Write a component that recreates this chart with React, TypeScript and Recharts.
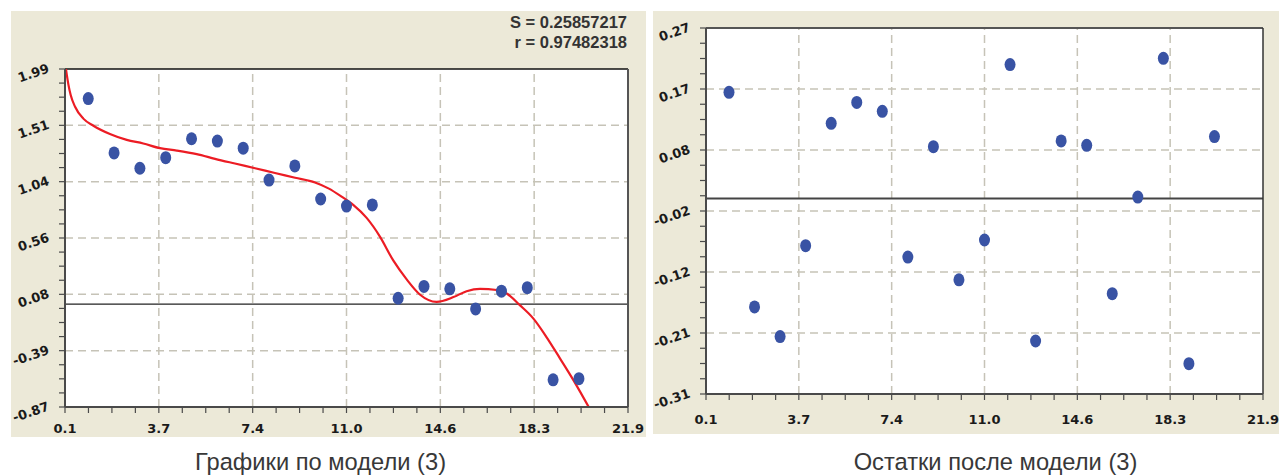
import React from 'react';
import { ComposedChart, Line, Scatter, XAxis, YAxis, CartesianGrid, ReferenceLine } from 'recharts';

// observation index and fitted-model chart values
const X_OBS = [1, 2, 3, 4, 5, 6, 7, 8, 9, 10, 11, 12, 13, 14, 15, 16, 17, 18, 19, 20];
const Y_OBS = [1.74, 1.28, 1.15, 1.24, 1.40, 1.38, 1.32, 1.05, 1.17, 0.89, 0.83, 0.84, 0.05, 0.15, 0.13, -0.04, 0.11, 0.14, -0.64, -0.63];
const RESID = [0.168, -0.172, -0.219, -0.075, 0.119, 0.152, 0.138, -0.093, 0.082, -0.129, -0.066, 0.212, -0.226, 0.091, 0.084, -0.151, 0.002, 0.222, -0.262, 0.098];

// model curve
const CURVE_X = [0.1, 0.17, 0.23, 0.32, 0.49, 0.81, 1.2, 1.84, 2.49, 3.13, 3.78, 4.43, 5.2, 5.91, 6.68, 7.46, 8.23, 9.01, 9.78, 10.3, 10.81, 11.26, 11.78, 12.3, 12.81, 13.33, 13.85, 14.49, 15.14, 15.65, 16.17, 16.82, 17.2, 17.72, 18.23, 18.75, 19.27, 19.78, 20.43];
const CURVE_Y = [2.05, 1.94, 1.86, 1.77, 1.67, 1.57, 1.51, 1.44, 1.39, 1.36, 1.32, 1.30, 1.27, 1.23, 1.19, 1.15, 1.11, 1.07, 1.03, 0.98, 0.91, 0.84, 0.73, 0.57, 0.37, 0.21, 0.08, 0.02, 0.06, 0.11, 0.13, 0.12, 0.09, -0.01, -0.12, -0.28, -0.46, -0.64, -0.89];

const X_LABELS = ['0.1', '3.7', '7.4', '11.0', '14.6', '18.3', '21.9'];
const Y1_LABELS = ['-0.87', '-0.39', '0.08', '0.56', '1.04', '1.51', '1.99'];
const Y2_LABELS = ['-0.31', '-0.21', '-0.12', '-0.02', '0.08', '0.17', '0.27'];

const X_DOM: [number, number] = [0.1, 21.9];
const Y1_DOM: [number, number] = [-0.87, 1.99];
const Y2_DOM: [number, number] = [-0.31, 0.27];

const BEIGE = '#ECE9D8';
const GRID = '#c6c3b7';
const DOT = '#3953a4';
const RED = '#ec1c24';
const tickStyle = { fontFamily: '"DejaVu Sans", Verdana, sans-serif', fontWeight: 700, fontSize: '13px', fill: '#1a1a1a' };

const fitData = X_OBS.map((x, i) => ({ x, y: Y_OBS[i] }));
const residData = X_OBS.map((x, i) => ({ x, y: RESID[i] }));
const curveData = CURVE_X.map((x, i) => ({ x, y: CURVE_Y[i] }));

// 6 labelled intervals, each split in 4 for the minor ticks
const allTicks = (d: [number, number]) => Array.from({ length: 25 }, (_, i) => d[0] + (i * (d[1] - d[0])) / 24);
const majorVals = (d: [number, number]) => Array.from({ length: 5 }, (_, i) => d[0] + ((i + 1) * (d[1] - d[0])) / 6);

const tickIndex = (v: number, d: [number, number]) => Math.round(((v - d[0]) / (d[1] - d[0])) * 24);

const makeXTick = (dy: number) => (props: any) => {
  const { x, y, payload } = props;
  const i = tickIndex(payload.value, X_DOM);
  if (i % 4 !== 0) return <g />;
  return (
    <text x={x} y={y + dy} textAnchor="middle" style={tickStyle}>
      {X_LABELS[i / 4]}
    </text>
  );
};

const makeYTick = (dom: [number, number], labels: string[]) => (props: any) => {
  const { x, y, payload } = props;
  const i = tickIndex(payload.value, dom);
  if (i % 4 !== 0) return <g />;
  const tx = x - 7;
  const ty = y + 3;
  return (
    <text x={tx} y={ty} textAnchor="end" style={tickStyle} transform={`rotate(-19 ${tx} ${ty})`}>
      {labels[i / 4]}
    </text>
  );
};

const Dot = (props: any) => <ellipse cx={props.cx} cy={props.cy} rx={5.5} ry={6.5} fill={DOT} />;

const axisLine = { stroke: '#4a4a4a', strokeWidth: 2 };
const tickLine = { stroke: '#4a4a4a', strokeWidth: 1.2 };

export default function App() {
  return (
    <div style={{ position: 'absolute', left: 0, top: 0, width: 1279, height: 476, background: '#fff', overflow: 'hidden' }}>
      <div style={{ position: 'absolute', left: 11, top: 11, width: 635, height: 426, background: BEIGE }}>
        <ComposedChart width={635} height={426} margin={{ top: 58, right: 18, bottom: 0, left: 0 }}>
          <CartesianGrid horizontal={false} vertical={false} fill="#fff" />
          <XAxis dataKey="x" type="number" domain={X_DOM} ticks={allTicks(X_DOM)} interval={0} allowDataOverflow height={30}
            axisLine={axisLine} tickLine={tickLine} tickSize={6} tick={makeXTick(18)} />
          <YAxis type="number" domain={Y1_DOM} ticks={allTicks(Y1_DOM)} interval={0} allowDataOverflow width={54}
            axisLine={axisLine} tickLine={tickLine} tickSize={6} tick={makeYTick(Y1_DOM, Y1_LABELS)} />
          {majorVals(Y1_DOM).map((v) => (
            <ReferenceLine key={'h' + v} y={v} stroke={GRID} strokeWidth={1.5} strokeDasharray="8 5" />
          ))}
          {majorVals(X_DOM).map((v) => (
            <ReferenceLine key={'v' + v} x={v} stroke={GRID} strokeWidth={1.5} strokeDasharray="8 5" />
          ))}
          <ReferenceLine y={0} stroke="#222" strokeWidth={1.3} />
          <ReferenceLine y={Y1_DOM[1]} stroke="#111" strokeWidth={1.5} />
          <ReferenceLine x={X_DOM[1]} stroke="#555" strokeWidth={2} />
          <Line data={curveData} dataKey="y" type="monotone" stroke={RED} strokeWidth={2.2} dot={false} isAnimationActive={false} />
          <Scatter data={fitData} dataKey="y" shape={Dot} isAnimationActive={false} />
        </ComposedChart>
      </div>
      <div style={{ position: 'absolute', left: 653, top: 11, width: 626, height: 423, background: BEIGE }}>
        <ComposedChart width={626} height={423} margin={{ top: 17, right: 16, bottom: 0, left: 0 }}>
          <CartesianGrid horizontal={false} vertical={false} fill="#fff" />
          <XAxis dataKey="x" type="number" domain={X_DOM} ticks={allTicks(X_DOM)} interval={0} allowDataOverflow height={40}
            axisLine={axisLine} tickLine={tickLine} tickSize={6} tick={makeXTick(22)} />
          <YAxis type="number" domain={Y2_DOM} ticks={allTicks(Y2_DOM)} interval={0} allowDataOverflow width={53}
            axisLine={axisLine} tickLine={tickLine} tickSize={6} tick={makeYTick(Y2_DOM, Y2_LABELS)} />
          {majorVals(Y2_DOM).map((v) => (
            <ReferenceLine key={'h' + v} y={v} stroke={GRID} strokeWidth={1.5} strokeDasharray="8 5" />
          ))}
          {majorVals(X_DOM).map((v) => (
            <ReferenceLine key={'v' + v} x={v} stroke={GRID} strokeWidth={1.5} strokeDasharray="8 5" />
          ))}
          <ReferenceLine y={0} stroke="#444" strokeWidth={2} />
          <ReferenceLine y={Y2_DOM[1]} stroke="#555" strokeWidth={2} />
          <ReferenceLine x={X_DOM[1]} stroke="#333" strokeWidth={1.5} />
          <Scatter data={residData} dataKey="y" shape={Dot} isAnimationActive={false} />
        </ComposedChart>
      </div>
      <svg width={1279} height={476} style={{ position: 'absolute', left: 0, top: 0, pointerEvents: 'none' }}>
        <g fontFamily="Liberation Sans, Arial, sans-serif" fontWeight="bold" fontSize={16.5} fill="#333" textAnchor="end">
          <text x={627} y={28}>S = 0.25857217</text>
          <text x={627} y={48}>r = 0.97482318</text>
        </g>
        <g fontFamily="Liberation Sans, Arial, sans-serif" fontSize={23.7} fill="#383838" textAnchor="middle">
          <text x={320.5} y={469.5}>Графики по модели (3)</text>
          <text x={995.5} y={469.5}>Остатки после модели (3)</text>
        </g>
      </svg>
    </div>
  );
}
